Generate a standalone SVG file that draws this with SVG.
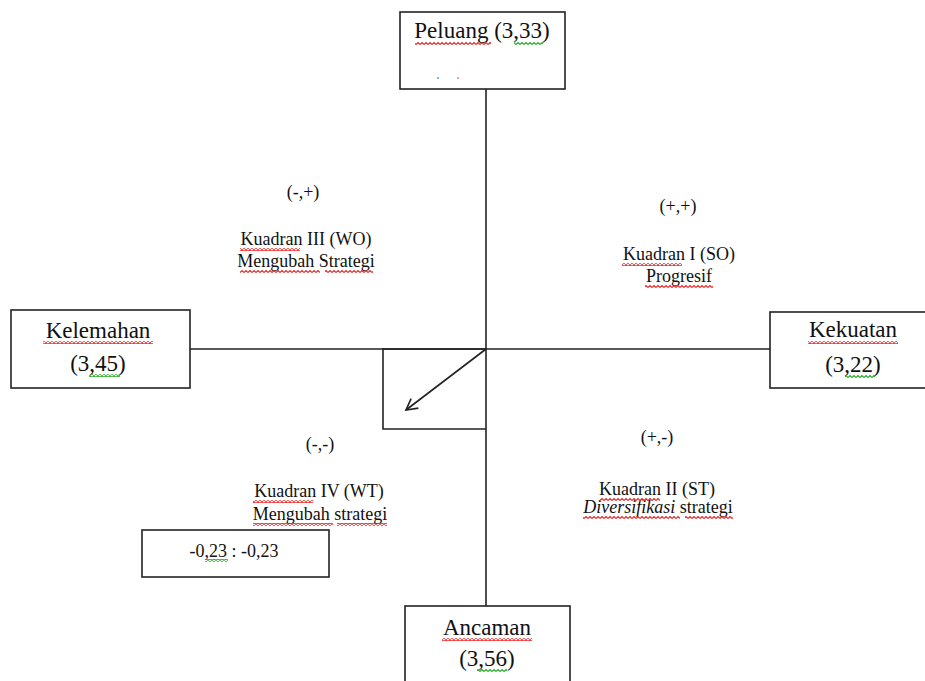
<svg xmlns="http://www.w3.org/2000/svg" width="925" height="681" viewBox="0 0 925 681">
<style>
.box{fill:#fff;stroke:#222;stroke-width:1.6}
.ln{stroke:#222;stroke-width:1.6;fill:none}
.t{font-family:"Liberation Serif","Times New Roman",serif;fill:#111;text-anchor:middle}
.big{font-size:23px}
.sm{font-size:18px}
.red{fill:url(#wavyRed)}
.grn{fill:url(#wavyGreen)}
</style>
<defs>
<pattern id="wavyRed" width="4" height="3" patternUnits="userSpaceOnUse">
<path d="M0,2.5 L2,0.5 L4,2.5" fill="none" stroke="#e22" stroke-width="1.1"/>
</pattern>
<pattern id="wavyGreen" width="4" height="3" patternUnits="userSpaceOnUse">
<path d="M0,2.5 L2,0.5 L4,2.5" fill="none" stroke="#2a2" stroke-width="1.1"/>
</pattern>
<marker id="arr" markerWidth="14" markerHeight="14" refX="12" refY="7" orient="auto" markerUnits="userSpaceOnUse">
<path d="M1,1 L12,7 L1,13" fill="none" stroke="#222" stroke-width="1.6"/>
</marker>
</defs>
<rect width="925" height="681" fill="#fff"/>

<g id="connectors">
<line class="ln" x1="486" y1="89" x2="486" y2="606"/>
<line class="ln" x1="190" y1="349" x2="770" y2="349"/>
<polyline class="ln" points="486,349 383,349 383,429 486,429"/>
<line class="ln" x1="486" y1="349" x2="406" y2="410" marker-end="url(#arr)"/>
</g>

<g id="peluang">
<rect class="box" x="400" y="12" width="165" height="77"/>
<text class="t big" x="482" y="38">Peluang (3,33)</text>
<rect class="red" x="415" y="42" width="76" height="3"/>
<rect class="grn" x="514" y="42" width="29" height="3"/>
<circle cx="438" cy="78" r="1" fill="#69c"/>
<circle cx="458" cy="78" r="1" fill="#d88"/>
</g>

<g id="kelemahan">
<rect class="box" x="11" y="310" width="179" height="78"/>
<text class="t big" x="98" y="338">Kelemahan</text>
<text class="t big" x="98" y="371">(3,45)</text>
<rect class="red" x="43" y="341" width="110" height="3"/>
<rect class="grn" x="89" y="374" width="31" height="3"/>
</g>

<g id="kekuatan">
<rect class="box" x="770" y="312" width="160" height="76"/>
<text class="t big" x="853" y="337">Kekuatan</text>
<text class="t big" x="853" y="372">(3,22)</text>
<rect class="red" x="808" y="341" width="90" height="3"/>
<rect class="grn" x="845" y="375" width="30" height="3"/>
</g>

<g id="ancaman">
<rect class="box" x="405" y="606" width="165" height="80"/>
<text class="t big" x="487" y="635">Ancaman</text>
<text class="t big" x="487" y="666">(3,56)</text>
<rect class="red" x="442" y="638" width="90" height="3"/>
<rect class="grn" x="477" y="669" width="30" height="3"/>
</g>

<g id="kuadran-iii">
<text class="t sm" x="303" y="198">(-,+)</text>
<text class="t sm" x="306" y="245">Kuadran III (WO)</text>
<text class="t sm" x="306" y="267">Mengubah Strategi</text>
<rect class="red" x="240" y="248" width="60" height="3"/>
<rect class="red" x="240" y="270" width="80" height="3"/>
<rect class="red" x="325" y="270" width="48" height="3"/>
</g>

<g id="kuadran-i">
<text class="t sm" x="678" y="212">(+,+)</text>
<text class="t sm" x="679" y="260">Kuadran I (SO)</text>
<text class="t sm" x="679" y="282">Progresif</text>
<rect class="red" x="622" y="263" width="60" height="3"/>
<rect class="red" x="645" y="285" width="68" height="3"/>
</g>

<g id="kuadran-ii">
<text class="t sm" x="657" y="443">(+,-)</text>
<text class="t sm" x="657" y="495">Kuadran II (ST)</text>
<text class="t sm" x="658" y="513"><tspan font-style="italic">Diversifikasi</tspan> strategi</text>
<rect class="red" x="600" y="498" width="60" height="3"/>
<rect class="red" x="583" y="516" width="97" height="3"/>
<rect class="red" x="685" y="516" width="48" height="3"/>
</g>

<g id="kuadran-iv">
<text class="t sm" x="320" y="450">(-,-)</text>
<text class="t sm" x="319" y="497">Kuadran IV (WT)</text>
<text class="t sm" x="320" y="520">Mengubah strategi</text>
<rect class="red" x="253" y="500" width="60" height="3"/>
<rect class="red" x="253" y="523" width="80" height="3"/>
<rect class="red" x="337" y="523" width="50" height="3"/>
</g>

<g id="nilai">
<rect class="box" x="142" y="530" width="187" height="47"/>
<text class="t sm" x="234" y="557">-0,23 : -0,23</text>
<rect class="grn" x="205" y="559" width="23" height="3"/>
</g>
</svg>
